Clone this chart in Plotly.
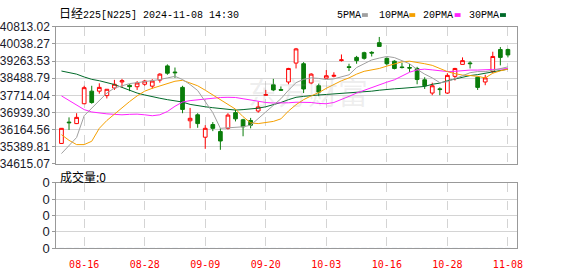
import plotly.graph_objects as go

W, H = 578, 276

dates = ["08-13","08-14","08-15","08-16","08-19","08-20","08-21","08-22","08-23","08-26",
         "08-27","08-28","08-29","08-30","09-02","09-03","09-04","09-05","09-06","09-09",
         "09-10","09-11","09-12","09-13","09-17","09-18","09-19","09-20","09-24","09-25",
         "09-26","09-27","09-30","10-01","10-02","10-03","10-04","10-07","10-08","10-09",
         "10-10","10-11","10-15","10-16","10-17","10-18","10-21","10-22","10-23","10-24",
         "10-25","10-28","10-29","10-30","10-31","11-01","11-05","11-06","11-07","11-08"]

open_ = [35543,36509,36440,37338,37906,37906,37705,38048,38322,38170,
         38107,38219,38133,38406,39048,38770,38077,36568,36838,35825,
         36397,36081,36226,36936,36611,36581,37009,37720,38193,37980,
         38321,39176,39146,38278,38150,38492,38580,39290,39010,39432,
         39646,39660,40099,39390,39261,39000,38975,38932,38419,37821,
         38010,37821,38577,39116,39180,38535,38321,38791,39787,39787]
high = [36240,36722,36910,38150,38150,38261,38000,38419,38462,38218,
        38361,38419,38447,38719,39116,38975,38150,37150,36910,36368,
        36510,36226,36910,37081,36654,36697,37436,37962,38462,38120,
        38960,39860,39220,38719,38248,38860,38760,39565,39146,39501,
        39690,39715,40356,39433,39305,39190,39130,39005,38535,38291,
        38077,38719,38960,39433,39261,38560,38646,39689,39903,39830]
low = [35530,36154,36420,37320,37338,37791,37577,37962,38077,37906,
       37962,38150,38019,38291,38647,38505,36910,36227,36252,35299,
       36100,35256,36170,36539,35867,36226,36936,37700,37906,37930,
       38218,38932,37821,38220,37680,38492,38530,39245,38817,39146,
       39330,39475,39928,39073,38890,38932,38775,38218,38005,37723,
       37723,37780,38390,39116,38932,37962,38176,38719,39073,39433]
close = [36226,36480,36722,38064,37393,38077,37992,38218,38379,38110,
         38276,38364,38364,38676,38718,38740,37081,36680,36440,36227,
         36226,35654,36825,36654,36295,36368,37193,37750,37962,37950,
         38932,39817,38005,38676,37864,38603,38620,39320,38980,39287,
         39390,39630,39928,39146,38932,38975,38950,38432,38150,38150,
         37980,38620,38932,39287,39150,38077,38505,39475,39432,39544]

ma5 = [35085,35427,35812,36795,37137,37522,37821,38047,38163,38248,
       38291,38334,38377,38432,38505,38577,38432,38206,37936,37436,
       36936,36227,36239,36252,36295,36368,36667,37009,37308,37564,
       37949,38291,38441,38505,38483,38432,38462,38569,38646,38975,
       39146,39317,39402,39475,39424,39296,39146,38889,38676,38505,
       38291,38334,38462,38620,38740,38791,38791,38847,38911,39005]
ma10 = [35940,35684,35491,35491,35641,36227,36581,36868,37180,37436,
        37693,37906,38035,38150,38248,38355,38398,38291,38150,37949,
        37735,37500,37308,37094,36752,36474,36440,36474,36539,36654,
        37009,37295,37522,37693,37842,38035,38206,38377,38505,38676,
        38804,38868,38932,39039,39146,39232,39261,39219,39146,39073,
        38932,38791,38697,38633,38612,38577,38505,38719,38825,38902]
ma20 = [37693,37479,37265,37073,36966,36911,36881,36859,36838,36859,
        36868,36838,36795,36838,36987,37223,37415,37479,37522,37564,
        37607,37620,37629,37620,37564,37500,37436,37394,37372,37364,
        37381,37406,37415,37394,37351,37338,37394,37522,37671,37821,
        37949,38056,38184,38313,38420,38590,38761,38868,38902,38868,
        38825,38791,38804,38847,38860,38860,38860,38889,38902,38932]
ma30 = [38817,38761,38676,38548,38441,38377,38291,38206,38077,37949,
        37821,37735,37650,37586,37522,37479,37415,37308,37244,37201,
        37158,37116,37073,37051,37073,37094,37137,37201,37287,37394,
        37522,37629,37671,37714,37735,37757,37778,37800,37821,37864,
        37885,37906,37949,37992,38013,38035,38056,38077,38120,38218,
        38270,38377,38462,38548,38612,38654,38719,38804,38847,38902]
volume = [0] * 60

y_ticks = [40813.02, 40038.27, 39263.53, 38488.79, 37714.04, 36939.30, 36164.56, 35389.81, 34615.07]
x_ticks = ["08-16", "08-28", "09-09", "09-20", "10-03", "10-16", "10-28", "11-08"]
vol_ticks = [0, 1, 2, 3, 4]
vol_tick_text = ["0", "0", "0", "0", "0"]

ma_names = ["5PMA", "10PMA", "20PMA", "30PMA"]
ma_colors = ["#a0a0a0", "#f5a000", "#ff22ff", "#006a2a"]

RED = "#ff0000"
GREEN = "#0a7d0a"
GRID = "#d4d4d4"
FRAME = "#999999"


def px(x):
    return x / W


def py(y):
    return 1 - y / H


fig = go.Figure()

for vals, col in zip([ma30, ma20, ma10, ma5], ma_colors[::-1]):
    fig.add_trace(go.Scatter(x=dates, y=vals, mode="lines",
                             line=dict(color=col, width=1),
                             hoverinfo="skip", showlegend=False,
                             xaxis="x", yaxis="y"))

fig.add_trace(go.Candlestick(
    x=dates, open=open_, high=high, low=low, close=close,
    increasing=dict(line=dict(color=RED, width=1), fillcolor="#ffffff"),
    decreasing=dict(line=dict(color=GREEN, width=1), fillcolor=GREEN),
    whiskerwidth=0, showlegend=False, xaxis="x", yaxis="y"))

fig.add_trace(go.Bar(x=dates, y=volume, marker_color=GREEN,
                     showlegend=False, xaxis="x2", yaxis="y2"))

x_dom = [px(55), px(522)]
x_range = [-0.69, 60.17]

common_x = dict(type="category", range=x_range, domain=x_dom,
                tickmode="array", tickvals=x_ticks, ticktext=x_ticks,
                showgrid=True, gridcolor=GRID, griddash="dash", gridwidth=1,
                showline=True, mirror=True, linecolor=FRAME, linewidth=1,
                zeroline=False, ticks="", rangeslider=dict(visible=False),
                fixedrange=True)

fig.update_layout(
    width=W, height=H,
    margin=dict(l=0, r=0, t=0, b=0),
    paper_bgcolor="#ffffff", plot_bgcolor="#ffffff",
    showlegend=False,
    bargap=0.3,
    xaxis=dict(**common_x, anchor="y", showticklabels=False),
    xaxis2=dict(**common_x, anchor="y2", showticklabels=True, ticklabelstandoff=7,
                tickfont=dict(family="DejaVu Sans Mono", size=10, color=RED)),
    yaxis=dict(domain=[py(166), py(21)], range=[y_ticks[-1], y_ticks[0]],
               tickmode="array", tickvals=y_ticks,
               ticktext=[f"{v:.2f}" for v in y_ticks],
               showgrid=True, gridcolor=GRID, gridwidth=1,
               showline=True, mirror=True, linecolor=FRAME, linewidth=1,
               ticks="outside", ticklen=3, tickcolor=FRAME,
               zeroline=False, anchor="x",
               tickfont=dict(family="Liberation Sans", size=12, color="#1a1a2a")),
    yaxis2=dict(domain=[py(255), py(186)], range=[0, 4],
                tickmode="array", tickvals=vol_ticks, ticktext=vol_tick_text,
                showgrid=True, gridcolor=GRID, gridwidth=1,
                showline=True, mirror=True, linecolor=FRAME, linewidth=1,
                ticks="outside", ticklen=3, tickcolor=FRAME,
                zeroline=False, anchor="x2",
                tickfont=dict(family="Liberation Sans", size=13, color="#1a1a2a")),
)

annotations = [
    dict(text="<span style='font-size:12px'>日经</span>225[N225] 2024-11-08 14:30",
         x=px(56), y=py(8), xref="paper", yref="paper", xanchor="left", yanchor="middle",
         showarrow=False, font=dict(family="Liberation Mono, Noto Sans CJK SC", size=10, color="#000000")),
    dict(text="成交量:0", x=px(57), y=py(179), xref="paper", yref="paper",
         xanchor="left", yanchor="middle", showarrow=False,
         font=dict(family="Noto Sans CJK SC", size=12, color="#000000")),
    dict(text="东方财富", x=px(310), y=py(89), xref="paper", yref="paper",
         xanchor="center", yanchor="middle", showarrow=False,
         font=dict(family="Noto Sans CJK SC", size=30, color="rgba(150,150,150,0.16)")),
]

legend_text_x = [338, 380, 425, 472]
legend_box_x = [365, 413, 459, 505]
shapes = []
for name, col, tx, bx in zip(ma_names, ma_colors, legend_text_x, legend_box_x):
    annotations.append(dict(text=name, x=px(tx), y=py(8.5), xref="paper", yref="paper",
                            xanchor="left", yanchor="middle", showarrow=False,
                            font=dict(family="Liberation Mono", size=10, color="#000000")))
    shapes.append(dict(type="rect", xref="paper", yref="paper",
                       x0=px(bx), x1=px(bx + 6), y0=py(10.5), y1=py(6.5),
                       fillcolor=col, line=dict(width=0)))

fig.update_layout(annotations=annotations, shapes=shapes)

fig.write_html("out.html")
